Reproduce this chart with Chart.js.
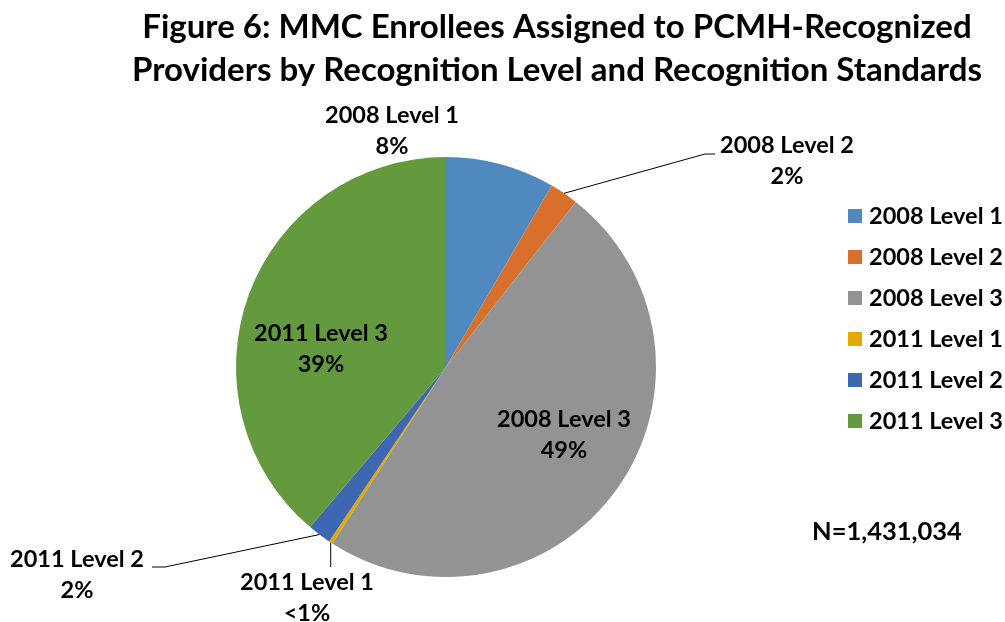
<!DOCTYPE html>
<html>
<head>
<meta charset="utf-8">
<script src="https://cdn.jsdelivr.net/npm/chart.js@4"></script>
<style>
  body { margin: 0; background: #fff; }
  #wrap { width: 1005px; height: 622px; }
</style>
</head>
<body>
<div id="wrap"><canvas id="chart" width="1005" height="622"></canvas></div>
<script>
// data
const categories = ['2008 Level 1', '2008 Level 2', '2008 Level 3', '2011 Level 1', '2011 Level 2', '2011 Level 3'];
const shares = [8.4, 2.2, 48.5, 0.3, 1.8, 38.8];
const shareLabels = ['8%', '2%', '49%', '<1%', '2%', '39%'];
const colors = ['#4F89BF', '#D8702B', '#939393', '#E2A900', '#3E67B2', '#639A3D'];
const titleLines = ['Figure 6: MMC Enrollees Assigned to PCMH-Recognized', 'Providers by Recognition Level and Recognition Standards'];
const noteText = 'N=1,431,034';

// where each data label sits, relative to the pie centre (text centre of first line)
const labelSpots = [
  { dx: -54, dy: -252 },
  { dx: 341, dy: -222, elbow: [259, -213], end: [269, -213] },
  { dx: 118, dy: 52 },
  { dx: -139, dy: 215, straight: 200 },
  { dx: -369, dy: 192, elbow: [-281, 200], end: [-294, 200] },
  { dx: -125, dy: -34 }
];

const FONT = 'Lato, "Open Sans", sans-serif';

const extras = {
  id: 'extras',
  afterDraw(chart) {
    const ctx = chart.ctx;
    const arcs = chart.getDatasetMeta(0).data;
    const cx = arcs[0].x, cy = arcs[0].y, r = arcs[0].outerRadius;
    ctx.save();
    ctx.fillStyle = '#000';

    // title
    ctx.font = 'bold 33px ' + FONT;
    ctx.textAlign = 'center';
    ctx.textBaseline = 'middle';
    ctx.fillText(titleLines[0], 557, 27);
    ctx.fillText(titleLines[1], 557, 70);

    // data labels + leader lines
    ctx.font = 'bold 23.5px ' + FONT;
    ctx.strokeStyle = '#000';
    ctx.lineWidth = 1;
    arcs.forEach((arc, i) => {
      const spot = labelSpots[i];
      const mid = (arc.startAngle + arc.endAngle) / 2;
      const ex = cx + Math.cos(mid) * r, ey = cy + Math.sin(mid) * r;
      if (spot.elbow) {
        ctx.beginPath();
        ctx.moveTo(ex, ey);
        ctx.lineTo(cx + spot.elbow[0], cy + spot.elbow[1]);
        ctx.lineTo(cx + spot.end[0], cy + spot.end[1]);
        ctx.stroke();
      } else if (spot.straight) {
        ctx.beginPath();
        ctx.moveTo(ex, ey);
        ctx.lineTo(ex, cy + spot.straight);
        ctx.stroke();
      }
      const tx = cx + spot.dx, ty = cy + spot.dy;
      ctx.fillText(categories[i], tx, ty);
      ctx.fillText(shareLabels[i], tx, ty + 31);
    });

    // legend
    ctx.textAlign = 'left';
    categories.forEach((c, i) => {
      const y = 216 + i * 41;
      ctx.fillStyle = colors[i];
      ctx.fillRect(848, y - 7, 14, 14);
      ctx.fillStyle = '#000';
      ctx.fillText(c, 869, y);
    });

    // note
    ctx.font = 'bold 25.5px ' + FONT;
    ctx.fillText(noteText, 812, 532);
    ctx.restore();
  }
};

new Chart(document.getElementById('chart'), {
  type: 'pie',
  data: {
    labels: categories,
    datasets: [{
      data: shares,
      backgroundColor: colors,
      borderWidth: 0
    }]
  },
  options: {
    responsive: false,
    animation: false,
    layout: { padding: { top: 157, bottom: 45, left: 236, right: 349 } },
    plugins: {
      legend: { display: false },
      tooltip: { enabled: false }
    }
  },
  plugins: [extras]
});
</script>
</body>
</html>
